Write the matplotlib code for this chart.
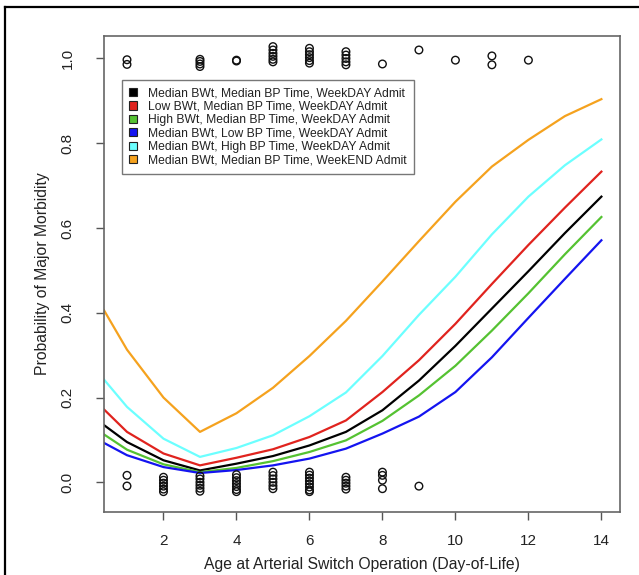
import matplotlib
matplotlib.use("Agg")
import matplotlib.pyplot as plt
from matplotlib.patches import Patch
from matplotlib.lines import Line2D

plt.rcParams['font.family'] = ['Liberation Sans', 'DejaVu Sans']

# Age grid (first value = left edge of the plotting region)
age = [0.37, 1, 2, 3, 4, 5, 6, 7, 8, 9, 10, 11, 12, 13, 14]

med_bwt_med_bp_wkday = [0.135, 0.095, 0.052, 0.028, 0.044, 0.062, 0.087, 0.119, 0.170, 0.240, 0.322, 0.410, 0.498, 0.588, 0.674]
low_bwt_med_bp_wkday = [0.172, 0.119, 0.068, 0.040, 0.058, 0.078, 0.107, 0.146, 0.213, 0.288, 0.374, 0.468, 0.560, 0.648, 0.733]
high_bwt_med_bp_wkday = [0.113, 0.077, 0.0425, 0.024, 0.034, 0.050, 0.0716, 0.099, 0.145, 0.205, 0.275, 0.358, 0.446, 0.538, 0.626]
med_bwt_low_bp_wkday = [0.093, 0.064, 0.036, 0.022, 0.029, 0.040, 0.056, 0.0795, 0.115, 0.155, 0.213, 0.295, 0.388, 0.480, 0.571]
med_bwt_high_bp_wkday = [0.2425, 0.178, 0.103, 0.060, 0.081, 0.111, 0.156, 0.212, 0.298, 0.395, 0.485, 0.585, 0.674, 0.748, 0.809]
med_bwt_med_bp_wkend = [0.406, 0.313, 0.200, 0.119, 0.163, 0.223, 0.298, 0.381, 0.474, 0.569, 0.662, 0.745, 0.808, 0.864, 0.904]

series_labels = [
    "Median BWt, Median BP Time, WeekDAY Admit",
    "Low BWt, Median BP Time, WeekDAY Admit",
    "High BWt, Median BP Time, WeekDAY Admit",
    "Median BWt, Low BP Time, WeekDAY Admit",
    "Median BWt, High BP Time, WeekDAY Admit",
    "Median BWt, Median BP Time, WeekEND Admit",
]

# Observed outcomes (jittered around 1 = morbidity, 0 = none)
obs1_age = [1, 1, 3, 3, 3, 3, 4, 4, 5, 5, 5, 5, 5, 5, 6, 6, 6, 6, 6, 6,
            7, 7, 7, 7, 7, 8, 9, 10, 11, 11, 12]
obs1_val = [0.997, 0.986, 0.998, 0.993, 0.987, 0.981, 0.996, 0.994,
            1.028, 1.020, 1.012, 1.005, 0.998, 0.992,
            1.024, 1.016, 1.009, 1.002, 0.995, 0.989,
            1.016, 1.008, 1.000, 0.992, 0.985,
            0.987, 1.020, 0.996, 1.006, 0.985, 0.996]
obs0_age = [1, 1, 2, 2, 2, 2, 2, 2, 3, 3, 3, 3, 3, 3,
            4, 4, 4, 4, 4, 4, 4, 5, 5, 5, 5, 5, 5,
            6, 6, 6, 6, 6, 6, 6, 6, 7, 7, 7, 7, 7, 8, 8, 8, 8, 9]
obs0_val = [0.0165, -0.0087, 0.012, 0.005, -0.002, -0.009, -0.016, -0.022,
            0.015, 0.008, 0.000, -0.007, -0.014, -0.021,
            0.018, 0.011, 0.004, -0.003, -0.010, -0.017, -0.022,
            0.024, 0.016, 0.008, 0.000, -0.008, -0.015,
            0.024, 0.017, 0.010, 0.003, -0.004, -0.011, -0.018, -0.022,
            0.012, 0.005, -0.002, -0.009, -0.016,
            0.024, 0.0165, 0.005, -0.015, -0.009]

x_ticks = [2, 4, 6, 8, 10, 12, 14]
y_ticks = [0.0, 0.2, 0.4, 0.6, 0.8, 1.0]

colors = ['black', '#E0231E', '#55C232', '#1414F0', '#6CFFFF', '#F5A21E']
series = [med_bwt_med_bp_wkday, low_bwt_med_bp_wkday, high_bwt_med_bp_wkday,
          med_bwt_low_bp_wkday, med_bwt_high_bp_wkday, med_bwt_med_bp_wkend]

fig = plt.figure(figsize=(6.39, 5.75), dpi=100)
ax = fig.add_axes([104/639, 63/575, 516/639, 476/575])

ax.scatter(obs1_age, obs1_val, s=30, facecolors='none', edgecolors='#111111', linewidths=1.0, zorder=3)
ax.scatter(obs0_age, obs0_val, s=30, facecolors='none', edgecolors='#111111', linewidths=1.0, zorder=3)

for vals, c in zip(series, colors):
    ax.plot(age, vals, color=c, lw=1.6, zorder=2)

ax.set_xlim(0.37, 14.51)
ax.set_ylim(-0.070, 1.053)
ax.set_xticks(x_ticks)
ax.set_xticklabels([str(t) for t in x_ticks])
ax.set_yticks(y_ticks)
ax.set_yticklabels([f"{t:.1f}" for t in y_ticks], rotation=90, va='center')
ax.tick_params(direction='out', length=6, width=1.0, color='#555555', labelsize=11,
               labelcolor='#222222')
ax.tick_params(axis='x', pad=9.5)
ax.tick_params(axis='y', pad=15)
for sp in ax.spines.values():
    sp.set_color('#666666')
    sp.set_linewidth(1.2)

ax.set_xlabel("Age at Arterial Switch Operation (Day-of-Life)", fontsize=11.3, color='#222222', labelpad=7)
ax.set_ylabel("Probability of Major Morbidity", fontsize=11.3, color='#222222', labelpad=8)

handles = [Patch(facecolor=c, edgecolor='#222222', linewidth=0.8) for c in colors]
leg = ax.legend(handles, series_labels, loc='upper left', bbox_to_anchor=(0.035, 0.9076),
                borderaxespad=0, fontsize=8.75, frameon=True, fancybox=False,
                handlelength=0.65, handleheight=0.65, handletextpad=0.9, labelspacing=0.12,
                borderpad=0.6)
leg.get_frame().set_edgecolor('#555555')
leg.get_frame().set_linewidth(1.0)
for t in leg.get_texts():
    t.set_color('#222222')

# outer frame (top and left edges visible in the crop)
fig.add_artist(Line2D([5/639, 1.0], [1 - 7/575, 1 - 7/575], transform=fig.transFigure, color='black', lw=1.6))
fig.add_artist(Line2D([5/639, 5/639], [0.0, 1 - 7/575], transform=fig.transFigure, color='black', lw=1.6))

fig.savefig("out.png", dpi=100)
